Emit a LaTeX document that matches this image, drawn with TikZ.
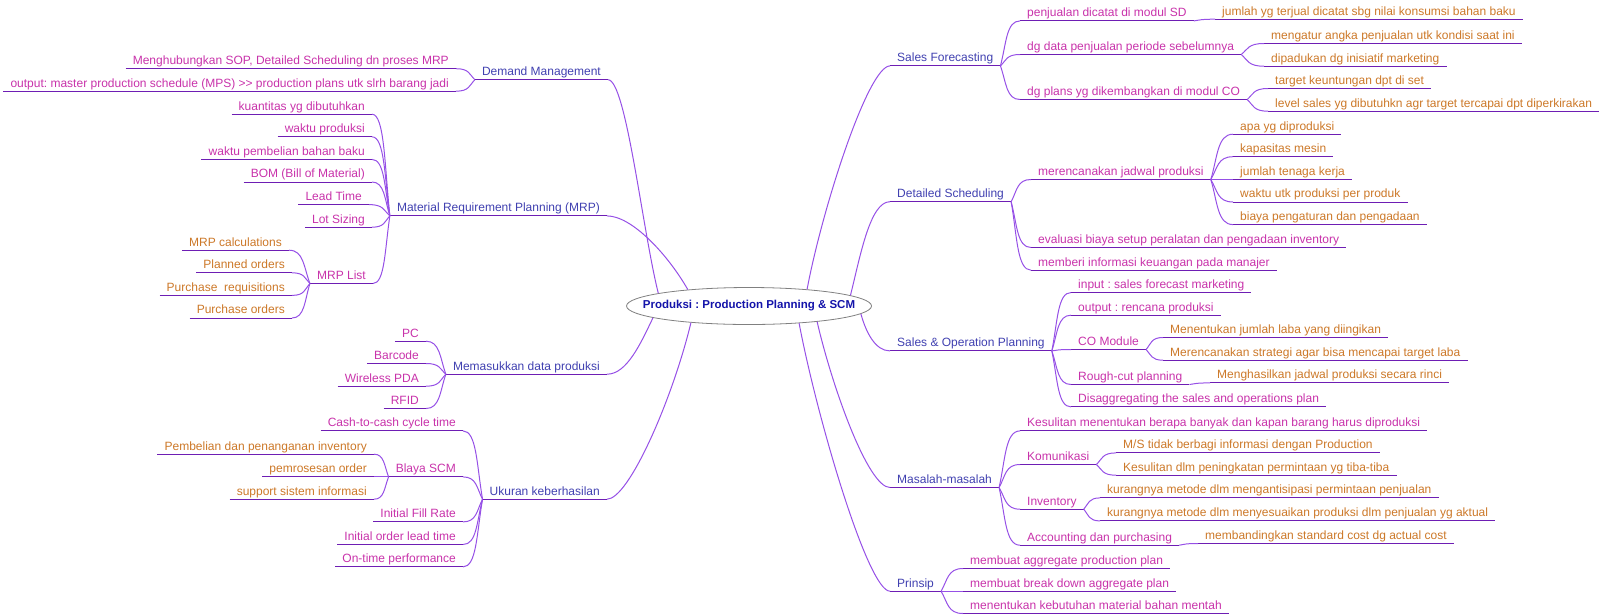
\documentclass[tikz,border=0pt]{standalone}
\usepackage{fontspec}
\setmainfont{Liberation Sans}
\usetikzlibrary{shapes.geometric,calc}
\frenchspacing
\definecolor{cmain}{RGB}{64,64,176}
\definecolor{csub}{RGB}{200,50,170}
\definecolor{cleaf}{RGB}{204,120,40}
\definecolor{ccent}{RGB}{20,20,170}
\definecolor{cline}{RGB}{150,80,230}
\definecolor{cul}{RGB}{110,30,180}
\newcommand\mmlink[2]{\draw[br] let \p1=(#1), \p2=(#2) in (\p1) .. controls ({\x1+0.3*(\x2-\x1)},{\y1+0.5*(\y2-\y1)}) and ({\x2-0.7*(\x2-\x1)},{\y2}) .. (\p2);}
\begin{document}
\begin{tikzpicture}[x=1pt,y=-1pt,
  br/.style={draw=cline, line width=1pt},
  mm/.style={inner xsep=7pt, inner ysep=4pt, text height=9pt, text depth=0pt,
    font=\fontsize{12pt}{14pt}\selectfont\frenchspacing,
    append after command={(\tikzlastnode.south west) edge[draw=cul, line width=1pt] (\tikzlastnode.south east)}},
  lvA/.style={mm, text=cmain},
  lvB/.style={mm, text=csub},
  lvC/.style={mm, text=cleaf},
  R/.style={anchor=base west},
  L/.style={anchor=base east}]
\useasboundingbox (0,0) rectangle (1600,614);

% centre
\node[ellipse, draw=gray, fill=white, line width=0.8pt, minimum width=245pt, minimum height=37pt, inner sep=0pt] (c) at (749,306) {};
\node[text=ccent, font=\bfseries\fontsize{11.5pt}{13pt}\selectfont\frenchspacing, inner sep=0pt] (ct) at (749,306) {Produksi : Production Planning \& SCM};

% ---------- right side ----------
\node[lvA,R] (sf)  at (890,61.7)  {Sales Forecasting};
\node[lvA,R] (ds)  at (890,197.5) {Detailed Scheduling};
\node[lvA,R] (sop) at (890,346.7) {Sales \& Operation Planning};
\node[lvA,R] (mas) at (890,483.3) {Masalah-masalah};
\node[lvA,R] (pri) at (890,587)   {Prinsip};

\node[lvB,R] (pen) at (1020,16.7) {penjualan dicatat di modul SD};
\node[lvB,R] (dgd) at (1020,50.3) {dg data penjualan periode sebelumnya};
\node[lvB,R] (dgp) at (1020,95.3) {dg plans yg dikembangkan di modul CO};
\node[lvC,R] (jum) at (1215,15)   {jumlah yg terjual dicatat sbg nilai konsumsi bahan baku};
\node[lvC,R] (mat) at (1264,39.3) {mengatur angka penjualan utk kondisi saat ini};
\node[lvC,R] (dip) at (1264,62)   {dipadukan dg inisiatif marketing};
\node[lvC,R] (tar) at (1268,84.3) {target keuntungan dpt di set};
\node[lvC,R] (lev) at (1268,107)  {level sales yg dibutuhkn agr target tercapai dpt diperkirakan};

\node[lvB,R] (mer) at (1031,175.3) {merencanakan jadwal produksi};
\node[lvB,R] (eva) at (1031,243.3) {evaluasi biaya setup peralatan dan pengadaan inventory};
\node[lvB,R] (mem) at (1031,266)   {memberi informasi keuangan pada manajer};
\node[lvC,R] (apa) at (1233,130)   {apa yg diproduksi};
\node[lvC,R] (kap) at (1233,152.5) {kapasitas mesin};
\node[lvC,R] (jtk) at (1233,175.3) {jumlah tenaga kerja};
\node[lvC,R] (wkt) at (1233,197.8) {waktu utk produksi per produk};
\node[lvC,R] (bia) at (1233,220.4) {biaya pengaturan dan pengadaan};

\node[lvB,R] (inp) at (1071,288.3) {input : sales forecast marketing};
\node[lvB,R] (outp) at (1071,311)  {output : rencana produksi};
\node[lvB,R] (com) at (1071,345.3) {CO Module};
\node[lvB,R] (rcp) at (1071,380.3) {Rough-cut planning};
\node[lvB,R] (dis) at (1071,402.7) {Disaggregating the sales and operations plan};
\node[lvC,R] (men) at (1163,333.3) {Menentukan jumlah laba yang diingikan};
\node[lvC,R] (mst) at (1163,356)   {Merencanakan strategi agar bisa mencapai target laba};
\node[lvC,R] (mhj) at (1210,378.7) {Menghasilkan jadwal produksi secara rinci};

\node[lvB,R] (kes) at (1020,426.7) {Kesulitan menentukan berapa banyak dan kapan barang harus diproduksi};
\node[lvB,R] (kom) at (1020,460.3) {Komunikasi};
\node[lvB,R] (inv) at (1020,505)   {Inventory};
\node[lvB,R] (acc) at (1020,541)   {Accounting dan purchasing};
\node[lvC,R] (ms)  at (1116,448.7) {M/S tidak berbagi informasi dengan Production};
\node[lvC,R] (kdl) at (1116,471)   {Kesulitan dlm peningkatan permintaan yg tiba-tiba};
\node[lvC,R] (kuA) at (1100,493.7) {kurangnya metode dlm mengantisipasi permintaan penjualan};
\node[lvC,R] (kuB) at (1100,516.7) {kurangnya metode dlm menyesuaikan produksi dlm penjualan yg aktual};
\node[lvC,R] (mbd) at (1198,539.3) {membandingkan standard cost dg actual cost};

\node[lvB,R] (agg) at (963,564.3) {membuat aggregate production plan};
\node[lvB,R] (brk) at (963,587)   {membuat break down aggregate plan};
\node[lvB,R] (ktb) at (963,609.3) {menentukan kebutuhan material bahan mentah};

% ---------- left side ----------
\node[lvA,L] (dm)  at (608,75.5)  {Demand Management};
\node[lvA,L] (mrp) at (607,211.7) {Material Requirement Planning (MRP)};
\node[lvA,L] (mdp) at (607,370)   {Memasukkan data produksi};
\node[lvA,L] (uku) at (607,495)   {Ukuran keberhasilan};

\node[lvB,L] (mgh) at (456,64.5) {Menghubungkan SOP, Detailed Scheduling dn proses MRP};
\node[lvB,L] (otp) at (456,87)   {output: master production schedule (MPS) >{}> production plans utk slrh barang jadi};

\node[lvB,L] (kua) at (372,110)   {kuantitas yg dibutuhkan};
\node[lvB,L] (wpr) at (372,132.6) {waktu produksi};
\node[lvB,L] (wpb) at (372,155.2) {waktu pembelian bahan baku};
\node[lvB,L] (bom) at (372,177.8) {BOM (Bill of Material)};
\node[lvB,L] (ldt) at (369,200.4) {Lead Time};
\node[lvB,L] (lot) at (372,223)   {Lot Sizing};
\node[lvB,L] (mrl) at (373,279.3) {MRP List};
\node[lvC,L] (mca) at (289,246)   {MRP calculations};
\node[lvC,L] (pla) at (292,268.6) {Planned orders};
\node[lvC,L] (pre) at (292,291.2) {Purchase\ \ requisitions};
\node[lvC,L] (por) at (292,313.8) {Purchase orders};

\node[lvB,L] (pc)   at (426,337)   {PC};
\node[lvB,L] (bar)  at (426,359.3) {Barcode};
\node[lvB,L] (wpd)  at (426,382)   {Wireless PDA};
\node[lvB,L] (rfid) at (426,404.3) {RFID};

\node[lvB,L] (ctc) at (463,426.7) {Cash-to-cash cycle time};
\node[lvB,L] (bla) at (463,472.7) {Blaya SCM};
\node[lvB,L] (ifr) at (463,517.7) {Initial Fill Rate};
\node[lvB,L] (iol) at (463,540.3) {Initial order lead time};
\node[lvB,L] (otm) at (463,562.7) {On-time performance};
\node[lvC,L] (pem) at (374,450)   {Pembelian dan penanganan inventory};
\node[lvC,L] (pmr) at (374,472.7) {pemrosesan order};
\node[lvC,L] (sup) at (374,495)   {support sistem informasi};

% ---------- main branches ----------
\draw[br] (c.172) .. controls +(-16,-64) and +(18,0) .. (dm.south east);
\draw[br] (c.165) .. controls +(-20,-35) and +(25,0) .. (mrp.south east);
\draw[br] (c.187) .. controls +(-12,25) and +(20,0) .. (mdp.south east);
\draw[br] (c.196) .. controls +(-18,75) and +(22,0) .. (uku.south east);
\draw[br] (c.16) .. controls +(15,-80) and +(-22,0) .. (sf.south west);
\draw[br] (c.6.5) .. controls +(10,-40) and +(-20,0) .. (ds.south west);
\draw[br] (c.356) .. controls +(5,18) and +(-15,0) .. (sop.south west);
\draw[br] (c.347.6) .. controls +(15,65) and +(-22,0) .. (mas.south west);
\draw[br] (c.341.6) .. controls +(18,95) and +(-22,0) .. (pri.south west);

% ---------- right links ----------
\mmlink{sf.south east}{pen.south west}
\mmlink{sf.south east}{dgd.south west}
\mmlink{sf.south east}{dgp.south west}
\mmlink{pen.south east}{jum.south west}
\mmlink{dgd.south east}{mat.south west}
\mmlink{dgd.south east}{dip.south west}
\mmlink{dgp.south east}{tar.south west}
\mmlink{dgp.south east}{lev.south west}

\mmlink{ds.south east}{mer.south west}
\mmlink{ds.south east}{eva.south west}
\mmlink{ds.south east}{mem.south west}
\mmlink{mer.south east}{apa.south west}
\mmlink{mer.south east}{kap.south west}
\mmlink{mer.south east}{jtk.south west}
\mmlink{mer.south east}{wkt.south west}
\mmlink{mer.south east}{bia.south west}

\mmlink{sop.south east}{inp.south west}
\mmlink{sop.south east}{outp.south west}
\mmlink{sop.south east}{com.south west}
\mmlink{sop.south east}{rcp.south west}
\mmlink{sop.south east}{dis.south west}
\mmlink{com.south east}{men.south west}
\mmlink{com.south east}{mst.south west}
\mmlink{rcp.south east}{mhj.south west}

\mmlink{mas.south east}{kes.south west}
\mmlink{mas.south east}{kom.south west}
\mmlink{mas.south east}{inv.south west}
\mmlink{mas.south east}{acc.south west}
\mmlink{kom.south east}{ms.south west}
\mmlink{kom.south east}{kdl.south west}
\mmlink{inv.south east}{kuA.south west}
\mmlink{inv.south east}{kuB.south west}
\mmlink{acc.south east}{mbd.south west}

\mmlink{pri.south east}{agg.south west}
\mmlink{pri.south east}{brk.south west}
\mmlink{pri.south east}{ktb.south west}

% ---------- left links ----------
\mmlink{dm.south west}{mgh.south east}
\mmlink{dm.south west}{otp.south east}

\mmlink{mrp.south west}{kua.south east}
\mmlink{mrp.south west}{wpr.south east}
\mmlink{mrp.south west}{wpb.south east}
\mmlink{mrp.south west}{bom.south east}
\mmlink{mrp.south west}{ldt.south east}
\mmlink{mrp.south west}{lot.south east}
\mmlink{mrp.south west}{mrl.south east}
\mmlink{mrl.south west}{mca.south east}
\mmlink{mrl.south west}{pla.south east}
\mmlink{mrl.south west}{pre.south east}
\mmlink{mrl.south west}{por.south east}

\mmlink{mdp.south west}{pc.south east}
\mmlink{mdp.south west}{bar.south east}
\mmlink{mdp.south west}{wpd.south east}
\mmlink{mdp.south west}{rfid.south east}

\mmlink{uku.south west}{ctc.south east}
\mmlink{uku.south west}{bla.south east}
\mmlink{uku.south west}{ifr.south east}
\mmlink{uku.south west}{iol.south east}
\mmlink{uku.south west}{otm.south east}
\mmlink{bla.south west}{pem.south east}
\mmlink{bla.south west}{pmr.south east}
\mmlink{bla.south west}{sup.south east}
\end{tikzpicture}
\end{document}
